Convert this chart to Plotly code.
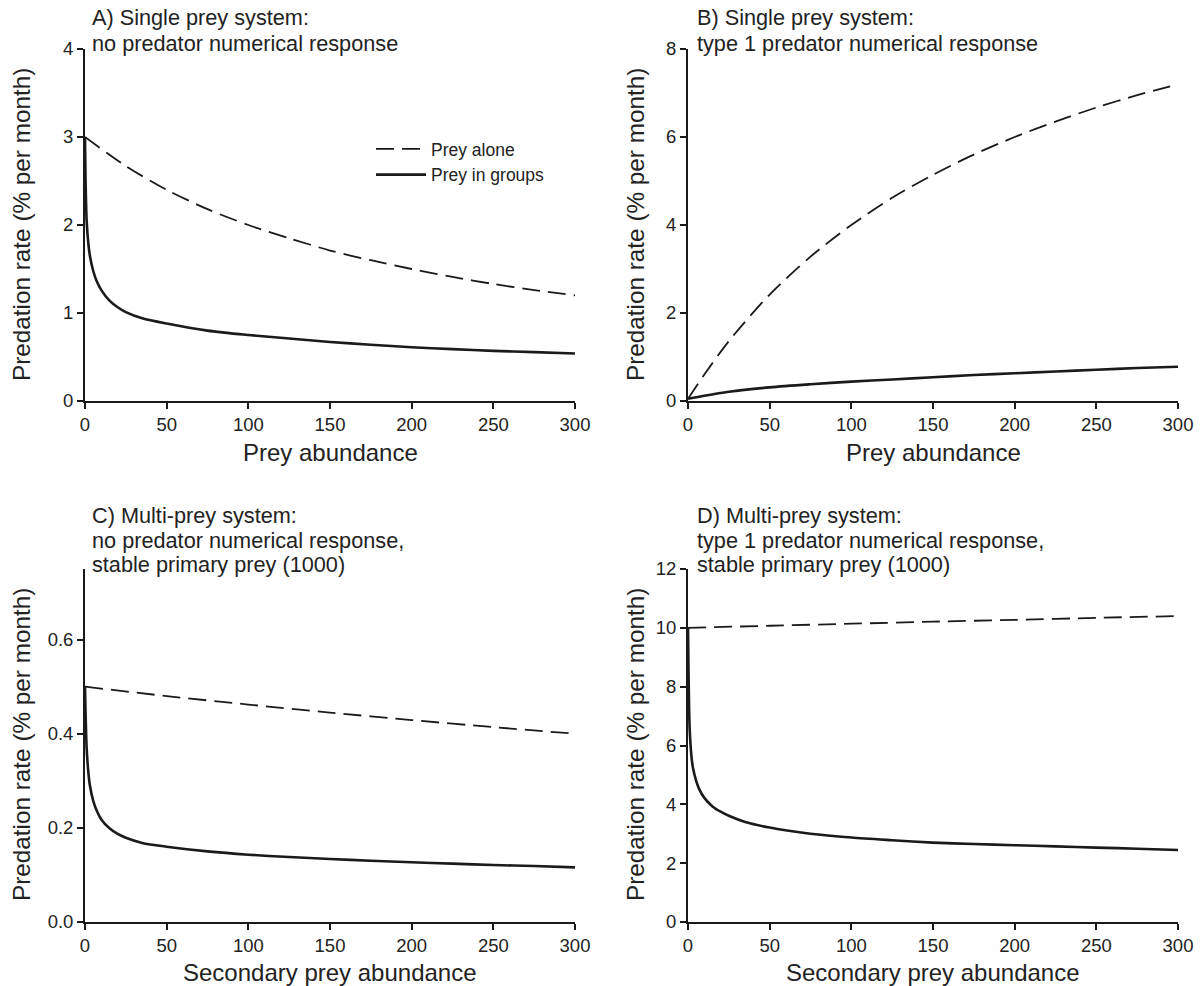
import plotly.graph_objects as go

# ---------------- data ----------------
# Panel A: single prey, no predator numerical response
a_x_alone = [0, 25, 50, 75, 100, 125, 150, 175, 200, 225, 250, 275, 300]
a_alone = [3.0, 2.67, 2.40, 2.18, 2.0, 1.85, 1.71, 1.60, 1.50, 1.41, 1.33, 1.26, 1.20]

groups_x = [0, 0.3, 0.6, 1, 2, 3, 5, 7, 10, 15, 20, 25, 35, 50, 75, 100,
            125, 150, 175, 200, 225, 250, 275, 300]
a_groups = [3.0, 2.55, 2.28, 2.05, 1.80, 1.65, 1.48, 1.37, 1.26, 1.14, 1.065, 1.01,
            0.94, 0.88, 0.80, 0.75, 0.71, 0.67, 0.64, 0.61, 0.59, 0.57, 0.555, 0.54]

# Panel B: single prey, type 1 predator numerical response
b_x = [0, 10, 25, 50, 75, 100, 125, 150, 175, 200, 225, 250, 275, 300]
b_alone = [0.05, 0.60, 1.36, 2.42, 3.28, 4.0, 4.62, 5.14, 5.60, 6.0, 6.35, 6.67, 6.95, 7.2]
b_groups = [0.05, 0.12, 0.21, 0.31, 0.38, 0.44, 0.49, 0.54, 0.59, 0.63, 0.67, 0.71, 0.75, 0.78]

# Panel C: multi-prey, no predator numerical response
cd_x_alone = [0, 50, 100, 150, 200, 250, 300]
c_alone = [0.50, 0.48, 0.462, 0.445, 0.429, 0.414, 0.40]
c_groups = [0.50, 0.45, 0.41, 0.37, 0.32, 0.29, 0.258, 0.238, 0.218, 0.199, 0.187, 0.179,
            0.168, 0.160, 0.150, 0.143, 0.138, 0.134, 0.130, 0.127, 0.124, 0.121, 0.119, 0.116]

# Panel D: multi-prey, type 1 predator numerical response
d_alone = [10.0, 10.07, 10.14, 10.21, 10.27, 10.34, 10.40]
d_groups = [10.0, 8.6, 7.5, 6.6, 5.7, 5.25, 4.8, 4.5, 4.22, 3.93, 3.75, 3.61,
            3.40, 3.21, 3.00, 2.87, 2.78, 2.70, 2.65, 2.61, 2.57, 2.53, 2.49, 2.45]

x_ticks = [0, 50, 100, 150, 200, 250, 300]
y_ticks_a = [0, 1, 2, 3, 4]
y_ticks_b = [0, 2, 4, 6, 8]
y_ticks_c = [0.0, 0.2, 0.4, 0.6]
y_ticks_d = [0, 2, 4, 6, 8, 10, 12]

titles = {
    "A": ["A) Single prey system:", "no predator numerical response"],
    "B": ["B) Single prey system:", "type 1 predator numerical response"],
    "C": ["C) Multi-prey system:", "no predator numerical response,", "stable primary prey (1000)"],
    "D": ["D) Multi-prey system:", "type 1 predator numerical response,", "stable primary prey (1000)"],
}
legend_names = ["Prey alone", "Prey in groups"]
y_title = "Predation rate (% per month)"
x_title_top = "Prey abundance"
x_title_bottom = "Secondary prey abundance"

# ---------------- layout geometry (reference pixels) ----------------
W, H = 1201, 986

FONT = "Liberation Sans, Arial, Helvetica, sans-serif"
INK = "#1a1a1a"
TXT = "#222"
DASH = "18px,8px"


def fx(r):
    return r / W


def fy(r):
    return 1 - r / H


fig = go.Figure()

panels = [
    ("A", "x", "y", a_x_alone, a_alone, groups_x, a_groups),
    ("B", "x2", "y2", b_x, b_alone, b_x, b_groups),
    ("C", "x3", "y3", cd_x_alone, c_alone, groups_x, c_groups),
    ("D", "x4", "y4", cd_x_alone, d_alone, groups_x, d_groups),
]

for key, xa, ya, dx, dy, sx, sy in panels:
    first = key == "A"
    fig.add_trace(go.Scatter(
        x=dx, y=dy, mode="lines", xaxis=xa, yaxis=ya,
        name=legend_names[0], showlegend=first,
        line=dict(color=INK, width=1.8, dash=DASH, shape="spline", smoothing=0.8),
        hoverinfo="skip",
    ))
    fig.add_trace(go.Scatter(
        x=sx, y=sy, mode="lines", xaxis=xa, yaxis=ya,
        name=legend_names[1], showlegend=first,
        line=dict(color=INK, width=2.6, shape="spline", smoothing=0.8),
        hoverinfo="skip",
    ))

# plot areas in reference pixels
left_x = (85, 575)
right_x = (688, 1178)
top_y = (401, 49)
bot_y = (922, 569)

axis_common = dict(
    showline=True, linecolor=INK, linewidth=1.8, mirror=False,
    showgrid=False, zeroline=False, automargin=False,
    ticks="outside", ticklen=6, tickwidth=1.6, tickcolor=INK,
    tickfont=dict(family=FONT, size=18.5, color=TXT),
)

layout_axes = {}
specs = [
    ("xaxis", "yaxis", "y", "x", left_x, top_y, y_ticks_a, [0, 4], None),
    ("xaxis2", "yaxis2", "y2", "x2", right_x, top_y, y_ticks_b, [0, 8], None),
    ("xaxis3", "yaxis3", "y3", "x3", left_x, bot_y, y_ticks_c, [0, 0.75], ".1f"),
    ("xaxis4", "yaxis4", "y4", "x4", right_x, bot_y, y_ticks_d, [0, 12], None),
]
for xname, yname, yanchor, xanchor, xd, yd, yt, yr, fmt in specs:
    layout_axes[xname] = dict(axis_common, domain=[fx(xd[0]), fx(xd[1])], range=[0, 300],
                              tickvals=x_ticks, anchor=yanchor)
    yax = dict(axis_common, domain=[fy(yd[0]), fy(yd[1])], range=yr, tickvals=yt,
               anchor=xanchor)
    if fmt:
        yax["tickformat"] = fmt
    layout_axes[yname] = yax

annotations = []

# panel titles (one annotation per line)
title_pos = {
    "A": (90, [18, 43]),
    "B": (695, [18, 43]),
    "C": (90, [515, 540, 564]),
    "D": (695, [515, 540, 564]),
}
for key, (tx, ys) in title_pos.items():
    for line, ty in zip(titles[key], ys):
        annotations.append(dict(
            text=line, x=fx(tx), y=fy(ty), xref="paper", yref="paper",
            xanchor="left", yanchor="middle", showarrow=False,
            font=dict(family=FONT, size=21.7, color=TXT),
        ))

# axis titles
for cx, cy in [(21, 225), (635, 225), (21, 745), (635, 745)]:
    annotations.append(dict(
        text=y_title, x=fx(cx), y=fy(cy), xref="paper", yref="paper",
        xanchor="center", yanchor="middle", textangle=-90, showarrow=False,
        font=dict(family=FONT, size=24.3, color=TXT),
    ))
for txt, cx, cy in [(x_title_top, 330, 453), (x_title_top, 933, 453),
                    (x_title_bottom, 330, 972), (x_title_bottom, 933, 972)]:
    annotations.append(dict(
        text=txt, x=fx(cx), y=fy(cy), xref="paper", yref="paper",
        xanchor="center", yanchor="middle", showarrow=False,
        font=dict(family=FONT, size=24, color=TXT),
    ))

fig.update_layout(
    width=W, height=H,
    margin=dict(l=0, r=0, t=0, b=0),
    paper_bgcolor="white", plot_bgcolor="white",
    font=dict(family=FONT, color=TXT),
    showlegend=True,
    legend=dict(
        x=fx(371), y=fy(131), xanchor="left", yanchor="top",
        bgcolor="rgba(0,0,0,0)", borderwidth=0,
        font=dict(family=FONT, size=17.5, color=TXT),
        itemwidth=50, tracegroupgap=0,
    ),
    annotations=annotations,
    **layout_axes,
)

fig.write_html(
    "out.html",
    config={"displayModeBar": False},
    post_script=(
        "document.body.style.margin='0px';"
        "document.body.style.overflow='hidden';"
        "document.documentElement.style.overflow='hidden';"
    ),
)
